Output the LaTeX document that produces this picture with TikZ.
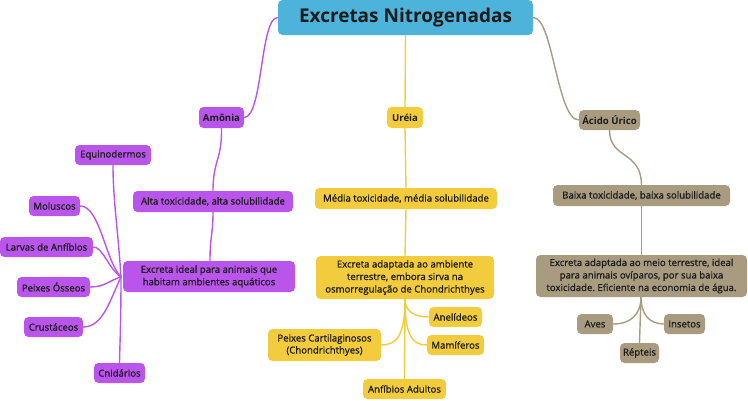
\documentclass[tikz,border=0pt]{standalone}
\usepackage{fontspec}
\setmainfont{Open Sans}
\newfontfamily\semib{Open Sans}[FakeBold=1.0]
\usetikzlibrary{backgrounds}
\frenchspacing
\begin{document}
\definecolor{cblue}{HTML}{4EB3DB}
\definecolor{cpur}{HTML}{BA55EC}
\definecolor{cyel}{HTML}{F2CC3C}
\definecolor{cbrn}{HTML}{A89B80}
\definecolor{ctxt}{HTML}{1C1C1C}
\begin{tikzpicture}[x=1pt,y=-1pt,
  box/.style={rounded corners=4.5pt, inner sep=0pt, text=ctxt, font=\semib\fontsize{9.6}{12.5}\selectfont, align=center},
  pbox/.style={box, fill=cpur},
  ybox/.style={box, fill=cyel},
  bbox/.style={box, fill=cbrn},
  bfb/.style={font=\fontsize{9.6}{12}\selectfont\bfseries},
  pl/.style={draw=cpur, line width=1.4pt},
  yl/.style={draw=cyel, line width=1.4pt},
  bl/.style={draw=cbrn, line width=1.4pt}]
\useasboundingbox (0,0) rectangle (748,400);
% root
\node[box, fill=cblue, minimum width=255, minimum height=35, font=\fontsize{19}{22}\selectfont\bfseries] (root) at (405.5,17.5) {Excretas Nitrogenadas};
% level 1
\node[pbox, bfb, minimum width=45, minimum height=21] (amo) at (221.5,117.5) {Amônia};
\node[ybox, bfb, minimum width=36, minimum height=21] (ure) at (405,117.5) {Uréia};
\node[bbox, bfb, minimum width=61, minimum height=20] (aci) at (609.5,120) {Ácido Úrico};
% purple branch
\node[pbox, minimum width=160, minimum height=21] (alta) at (213,201.5) {Alta toxicidade, alta solubilidade};
\node[pbox, minimum width=172, minimum height=31] (eid) at (209,276.5) {Excreta ideal para animais que\\habitam ambientes aquáticos};
\node[pbox, minimum width=76, minimum height=20] (equ) at (113,155) {Equinodermos};
\node[pbox, minimum width=51, minimum height=20] (mol) at (54.5,206) {Moluscos};
\node[pbox, minimum width=93, minimum height=20] (lar) at (46.5,247) {Larvas de Anfíbios};
\node[pbox, minimum width=73, minimum height=20] (pos) at (53.5,287) {Peixes Ósseos};
\node[pbox, minimum width=59, minimum height=20] (cru) at (53.5,327) {Crustáceos};
\node[pbox, minimum width=51, minimum height=20] (cni) at (119.5,373) {Cnidários};
\coordinate (ph) at (121,277);
% yellow branch
\node[ybox, minimum width=182, minimum height=21] (med) at (406,198.5) {Média toxicidade, média solubilidade};
\node[ybox, minimum width=178, minimum height=43] (ead) at (405,277.5) {Excreta adaptada ao ambiente\\terrestre, embora sirva na\\osmorregulação de Chondrichthyes};
\node[ybox, minimum width=53, minimum height=20] (ane) at (455.5,317) {Anelídeos};
\node[ybox, minimum width=57, minimum height=20] (mam) at (455.5,345) {Mamíferos};
\node[ybox, minimum width=113, minimum height=32, font=\semib\fontsize{9.6}{12}\selectfont] (pca) at (324.5,345) {Peixes Cartilaginosos\\(Chondrichthyes)};
\node[ybox, minimum width=83, minimum height=20] (anf) at (404.5,389) {Anfíbios Adultos};
\coordinate (yh) at (405,299);
% brown branch
\node[bbox, minimum width=177, minimum height=21] (bai) at (641.5,195.5) {Baixa toxicidade, baixa solubilidade};
\node[bbox, minimum width=211, minimum height=42] (eme) at (641.5,276) {Excreta adaptada ao meio terrestre, ideal\\para animais ovíparos, por sua baixa\\toxicidade. Eficiente na economia de água.};
\node[bbox, minimum width=36, minimum height=20] (ave) at (595,324) {Aves};
\node[bbox, minimum width=41, minimum height=20] (ins) at (684.5,324) {Insetos};
\node[bbox, minimum width=39, minimum height=20] (rep) at (639.5,353) {Répteis};
\coordinate (bh) at (641,297);
% connectors
\begin{pgfonlayer}{background}
\draw[pl] (root.west) .. controls (260,17) and (263,117) .. (amo.east);
\draw[yl] (root.south) -- (ure.north);
\draw[bl] (root.east) .. controls (553,17) and (557,120) .. (aci.west);
% purple
\draw[pl] (amo.south) .. controls (222,160) and (213,160) .. (alta.north);
\draw[pl] (alta.south) .. controls (213,235) and (210,235) .. (eid.north -| 210,0);
\draw[pl] (ph) .. controls (118,230) and (113,200) .. (equ.south);
\draw[pl] (ph) .. controls (105,260) and (100,206) .. (mol.east);
\draw[pl] (ph) .. controls (108,268) and (103,247) .. (lar.east);
\draw[pl] (ph) .. controls (110,280) and (105,287) .. (pos.east);
\draw[pl] (ph) .. controls (110,300) and (103,327) .. (cru.east);
\draw[pl] (ph) .. controls (121,320) and (120,340) .. (cni.north);
% yellow
\draw[yl] (ure.south) -- (med.north);
\draw[yl] (med.south) -- (ead.north);
\draw[yl] (yh) .. controls (405,312) and (415,317) .. (ane.west);
\draw[yl] (yh) .. controls (405,335) and (412,345) .. (mam.west);
\draw[yl] (yh) .. controls (405,335) and (397,345) .. (pca.east);
\draw[yl] (yh) -- (anf.north);
% brown
\draw[bl] (aci.south) .. controls (610,160) and (641,150) .. (bai.north);
\draw[bl] (bai.south) -- (eme.north);
\draw[bl] (bh) .. controls (641,315) and (630,324) .. (ave.east);
\draw[bl] (bh) .. controls (641,315) and (650,324) .. (ins.west);
\draw[bl] (bh) -- (rep.north);
\end{pgfonlayer}
\end{tikzpicture}
\end{document}
